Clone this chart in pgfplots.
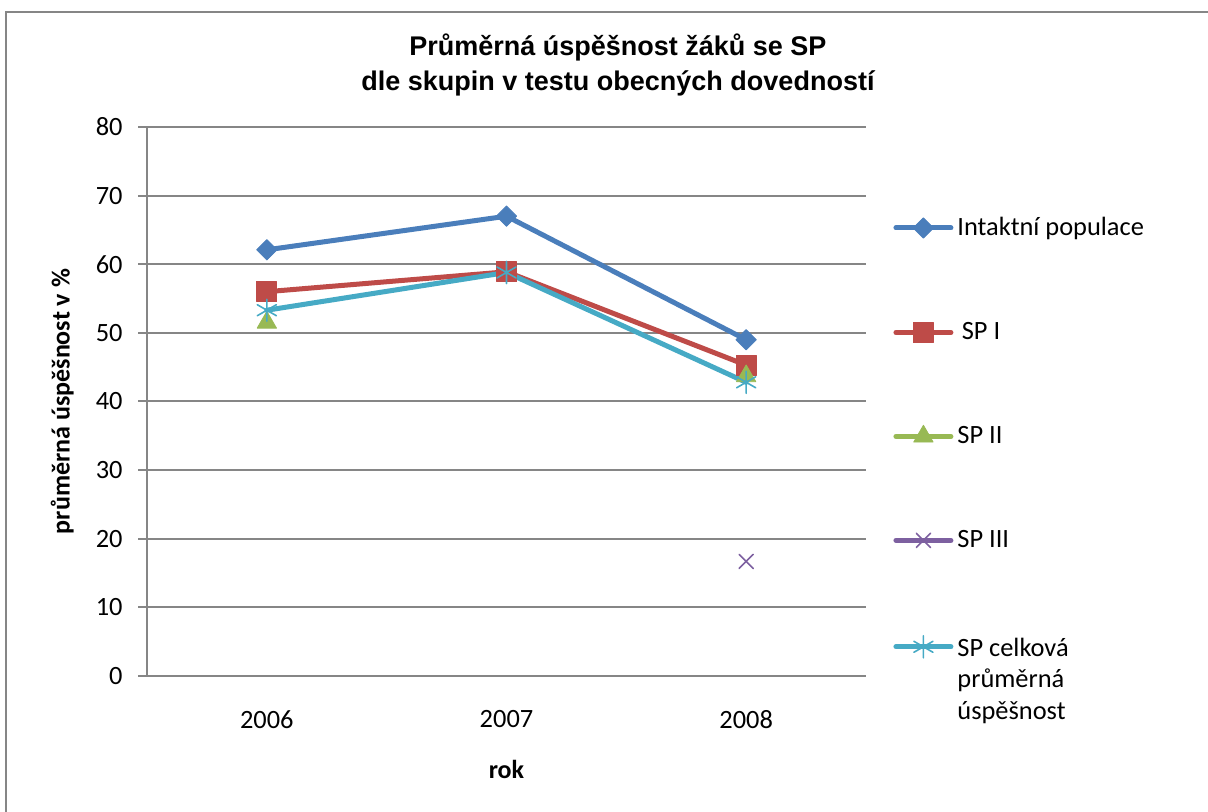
\documentclass[border=0pt]{standalone}
\usepackage{pgfplots}
\pgfplotsset{compat=1.18}
\usepackage{fontspec}
\setmainfont{Carlito}
\newfontfamily\arialfont{Liberation Sans}
\definecolor{cblue}{HTML}{4A7EBB}
\definecolor{cred}{HTML}{BE4B48}
\definecolor{cgreen}{HTML}{98B954}
\definecolor{cpurple}{HTML}{7D60A0}
\definecolor{ccyan}{HTML}{46AAC5}
\definecolor{cgrid}{HTML}{868686}
\begin{document}
\begin{tikzpicture}[x=1pt,y=1pt]
\useasboundingbox (0,0) rectangle (604,406);
\draw[cgrid, line width=1pt] (3,-5) rectangle (612,400);
\begin{axis}[
  at={(73.5pt,68pt)}, anchor=south west,
  scale only axis, width=359.5pt, height=274.5pt,
  xmin=2005.5, xmax=2008.5, ymin=0, ymax=80,
  xtick={2006,2007,2008}, xticklabels={2006,2007,2008},
  ytick={0,10,...,80},
  axis x line*=bottom, axis y line*=left,
  axis line style={cgrid, line width=1pt, -},
  x axis line style={-}, y axis line style={-},
  ymajorgrids, grid style={cgrid, line width=1pt},
  major tick style={cgrid, line width=1pt},
  x tick style={draw=none},
  tick align=outside, major tick length=4.5pt,
  /pgf/number format/assume math mode=true,
  tick label style={font=\fontsize{13.2}{15.8}\selectfont, black},
  yticklabel style={xshift=-4.2pt},
  xticklabel style={yshift=-9.2pt},
  title={Průměrná úspěšnost žáků se SP\\dle skupin v testu obecných dovedností},
  title style={at={(axis description cs:0.655,1.092)}, anchor=center, align=center, font=\arialfont\bfseries\fontsize{13.5}{17.5}\selectfont},
  xlabel={rok}, ylabel={průměrná úspěšnost v \%},
  xlabel style={at={(axis description cs:0.5,-0.171)}, anchor=center, font=\bfseries\fontsize{13}{15.6}\selectfont},
  ylabel style={at={(axis description cs:-0.118,0.5)}, anchor=center, font=\bfseries\fontsize{13}{15.6}\selectfont},
  unbounded coords=jump,
  legend style={at={(axis description cs:1.0376,0.8435)}, anchor=north west, draw=none, fill=none, inner sep=0pt, row sep=37.9pt, font=\fontsize{13.2}{15.8}\selectfont, cells={anchor=west}},
  legend cell align=left,
  legend image code/.code={\draw[mark repeat=2,mark phase=2,#1] plot coordinates {(0pt,0pt) (13.75pt,0pt) (27.5pt,0pt)};},
  every axis plot/.append style={line width=2.5pt, line cap=round, line join=round},
]
\addplot[color=cblue, mark=square*, mark size=3.6pt, mark options={rotate=45, line width=0.4pt, fill=cblue}]
  coordinates {(2006,62.1) (2007,67.0) (2008,49.0)};
\addlegendentry{Intaktní populace}
\addplot[color=cred, mark=square*, mark size=5pt, mark options={line width=0.4pt, fill=cred}]
  coordinates {(2006,56.0) (2007,58.9) (2008,45.3)};
\addlegendentry{\,SP I}
\addplot[color=cgreen, mark=triangle*, mark size=5.6pt, mark options={line width=0.4pt, fill=cgreen}]
  coordinates {(2006,51.5) (2007,nan) (2008,43.7)};
\addlegendentry{SP II}
\addplot[color=cpurple, mark=x, mark size=5pt, mark options={line width=0.8pt}]
  coordinates {(2006,nan) (2007,nan) (2008,16.7)};
\addlegendentry{SP III}
\addplot[color=ccyan, mark=asterisk, mark size=5.5pt, mark options={line width=0.8pt}]
  coordinates {(2006,53.3) (2007,58.8) (2008,42.8)};
\addlegendentry{\begin{tabular}[t]{@{}l@{}}SP celková\\průměrná\\úspěšnost\end{tabular}}
\end{axis}
\end{tikzpicture}
\end{document}
